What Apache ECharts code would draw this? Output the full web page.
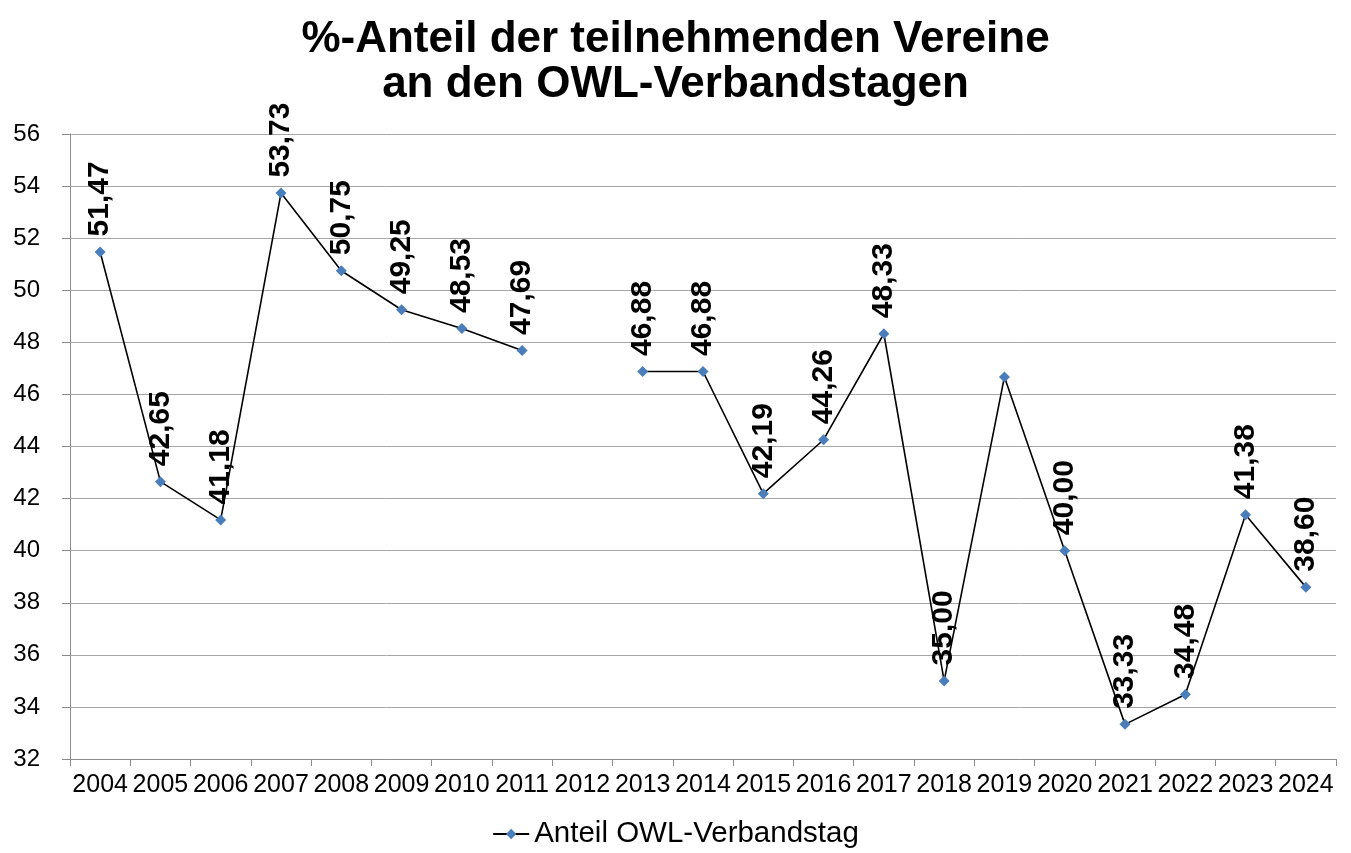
<!DOCTYPE html>
<html>
<head>
<meta charset="utf-8">
<script src="https://cdn.jsdelivr.net/npm/echarts@6/dist/echarts.min.js"></script>
<style>html,body{margin:0;padding:0;background:#fff}#c{width:1351px;height:853px}</style>
</head>
<body>
<div id="c"></div>
<script>
var years = ['2004','2005','2006','2007','2008','2009','2010','2011','2012','2013','2014','2015','2016','2017','2018','2019','2020','2021','2022','2023','2024'];
var shares = [51.47,42.65,41.18,53.73,50.75,49.25,48.53,47.69,null,46.88,46.88,42.19,44.26,48.33,35.00,46.67,40.00,33.33,34.48,41.38,38.60];
var unlabeledYears = ['2019'];
var yTicks = [32,34,36,38,40,42,44,46,48,50,52,54,56];
var seriesName = 'Anteil OWL-Verbandstag';
var titleText = '%-Anteil der teilnehmenden Vereine\nan den OWL-Verbandstagen';

var FONT = "'Liberation Sans', Arial, Helvetica, sans-serif";
var seriesData = shares.map(function (v, i) {
  if (v === null) return '-';
  return { value: v, label: { show: unlabeledYears.indexOf(years[i]) < 0 } };
});

var chart = echarts.init(document.getElementById('c'));
chart.setOption({
  backgroundColor: '#fff',
  animation: false,
  title: {
    text: titleText,
    left: 'center',
    top: 12,
    textStyle: { fontFamily: FONT, fontSize: 44, fontWeight: 'bold', color: '#000', lineHeight: 45 }
  },
  legend: {
    bottom: -1,
    left: 'center',
    itemWidth: 36,
    itemHeight: 13,
    itemGap: 6,
    textStyle: { fontFamily: FONT, fontSize: 29.5, color: '#000' },
    data: [seriesName]
  },
  grid: { left: 70, right: 15, top: 134, bottom: 94, containLabel: false },
  xAxis: {
    type: 'category',
    data: years,
    boundaryGap: true,
    axisLine: { lineStyle: { color: '#8c8c8c', width: 1 } },
    axisTick: { show: true, length: 7, inside: false, alignWithLabel: false, lineStyle: { color: '#8c8c8c' } },
    axisLabel: { interval: 0, margin: 14, fontFamily: FONT, fontSize: 25, color: '#000' },
    splitLine: { show: false }
  },
  yAxis: {
    type: 'value',
    min: yTicks[0],
    max: yTicks[yTicks.length - 1],
    interval: 2,
    axisLine: { show: true, lineStyle: { color: '#8c8c8c', width: 1 } },
    axisTick: { show: true, length: 8, lineStyle: { color: '#8c8c8c' } },
    axisLabel: { margin: 30, fontFamily: FONT, fontSize: 24, color: '#000' },
    splitLine: { show: true, lineStyle: { color: '#a6a6a6', width: 1 } }
  },
  series: [{
    name: seriesName,
    type: 'line',
    data: seriesData,
    connectNulls: false,
    symbol: 'diamond',
    symbolSize: 11,
    showAllSymbol: true,
    lineStyle: { color: '#000', width: 1.6 },
    itemStyle: { color: '#4a7ebb' },
    label: {
      show: true,
      position: 'top',
      rotate: 90,
      align: 'left',
      verticalAlign: 'middle',
      distance: 10,
      fontFamily: FONT,
      fontSize: 30,
      fontWeight: 'bold',
      color: '#000',
      formatter: function (p) { return p.value.toFixed(2).replace('.', ','); }
    },
    emphasis: { disabled: true }
  }]
});
</script>
</body>
</html>
